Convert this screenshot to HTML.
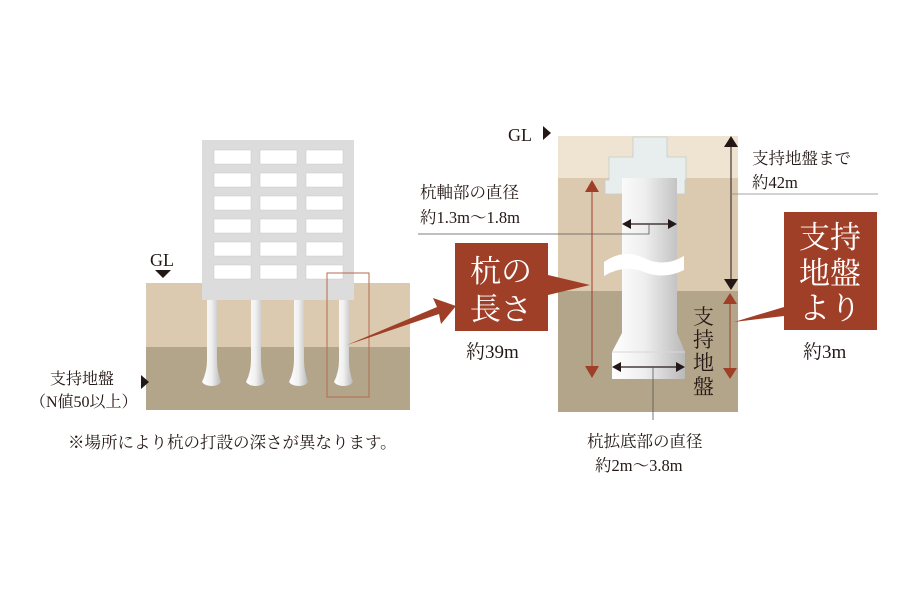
<!DOCTYPE html>
<html><head><meta charset="utf-8"><style>
html,body{margin:0;padding:0;background:#fff;}
svg{display:block;}
text{font-family:"Liberation Serif","Noto Serif CJK JP","Noto Serif CJK SC",serif;fill:#231815;}
</style></head><body>
<svg width="900" height="600" viewBox="0 0 900 600" xmlns="http://www.w3.org/2000/svg">
<defs>
<linearGradient id="pg" x1="0" x2="1" y1="0" y2="0">
<stop offset="0" stop-color="#ffffff"/><stop offset="0.45" stop-color="#eeeeee"/><stop offset="1" stop-color="#b9b9b9"/>
</linearGradient>
<linearGradient id="bg" x1="0" x2="1"><stop offset="0" stop-color="#fff"/><stop offset="0.5" stop-color="#f0f0f0"/><stop offset="1" stop-color="#b8b8b8"/></linearGradient>
</defs>
<!-- LEFT -->
<rect x="146" y="283" width="264" height="64" fill="#dccab0"/>
<rect x="146" y="347" width="264" height="63" fill="#b3a58a"/>
<rect x="202" y="140" width="152" height="160" fill="#dcdcdc"/>
<g fill="#fff" stroke="#c8c8c8" stroke-width="0.5">
<rect x="214" y="150" width="37" height="14"/><rect x="260" y="150" width="37" height="14"/><rect x="306" y="150" width="37" height="14"/>
<rect x="214" y="173" width="37" height="14"/><rect x="260" y="173" width="37" height="14"/><rect x="306" y="173" width="37" height="14"/>
<rect x="214" y="196" width="37" height="14"/><rect x="260" y="196" width="37" height="14"/><rect x="306" y="196" width="37" height="14"/>
<rect x="214" y="219" width="37" height="14"/><rect x="260" y="219" width="37" height="14"/><rect x="306" y="219" width="37" height="14"/>
<rect x="214" y="242" width="37" height="14"/><rect x="260" y="242" width="37" height="14"/><rect x="306" y="242" width="37" height="14"/>
<rect x="214" y="265" width="37" height="14"/><rect x="260" y="265" width="37" height="14"/><rect x="306" y="265" width="37" height="14"/>
</g>
<g fill="url(#bg)">
<path d="M207 300H217V360Q217 372 221 382Q218 386 212 386Q205 386 202 382Q207 372 207 360Z"/>
<path d="M251 300H261V360Q261 372 265 382Q262 386 256 386Q249 386 246 382Q251 372 251 360Z"/>
<path d="M294 300H304V360Q304 372 308 382Q305 386 299 386Q292 386 289 382Q294 372 294 360Z"/>
<path d="M339 300H349V360Q349 372 353 382Q350 386 344 386Q337 386 334 382Q339 372 339 360Z"/>
</g>
<rect x="327" y="273" width="42" height="124" fill="none" stroke="#b56a4e" stroke-width="1"/>
<text x="150" y="266" font-size="18">GL</text>
<path d="M155 270h16l-8 8z" fill="#231815"/>
<path d="M141 375l8 7-8 7z" fill="#231815"/>
<text x="50" y="384" font-size="16">支持地盤</text>
<text x="30" y="407" font-size="16">（N値50以上）</text>
<text x="68" y="448" font-size="16.5">※場所により杭の打設の深さが異なります。</text>
<!-- big arrow -->
<path d="M347 345L437 307L433 298L456 306L441 324L439 314Z" fill="#a03f28"/>
<!-- RIGHT -->
<rect x="558" y="136" width="180" height="42" fill="#efe4d2"/>
<rect x="558" y="178" width="180" height="113" fill="#dccab0"/>
<rect x="558" y="291" width="180" height="121" fill="#b3a58a"/>
<path d="M633 137h34v20h19v23h-1v14h-80v-14h4v-23h24z" fill="#e8eeee" stroke="#c3cccc" stroke-width="0.8"/>
<path d="M622 178h55v155l8 19v27h-73v-27l10-19z" fill="url(#pg)"/>
<line x1="612" y1="352" x2="685" y2="352" stroke="#d8d8d8" stroke-width="1"/>
<path d="M604 262q20-14 40-4t40-2v14q-20 10-40 2t-40 4z" fill="#fff"/>
<!-- shaft diameter -->
<line x1="628" y1="224" x2="672" y2="224" stroke="#231815" stroke-width="1.2"/>
<path d="M622 224l9-5v10z M677 224l-9-5v10z" fill="#231815"/>
<polyline points="418,234 649,234 649,224" fill="none" stroke="#555" stroke-width="0.8"/>
<text x="420" y="198" font-size="16.5">杭軸部の直径</text>
<text x="420" y="223" font-size="16.5">約1.3m〜1.8m</text>
<!-- base diameter -->
<line x1="618" y1="367" x2="680" y2="367" stroke="#231815" stroke-width="1.2"/>
<path d="M612 367l9-5v10z M685 367l-9-5v10z" fill="#231815"/>
<line x1="653" y1="367" x2="653" y2="420" stroke="#555" stroke-width="0.8"/>
<text x="587" y="447" font-size="16.5">杭拡底部の直径</text>
<text x="595" y="471" font-size="16.5">約2m〜3.8m</text>
<!-- red pile length arrow -->
<line x1="592" y1="186" x2="592" y2="374" stroke="#a03f28" stroke-width="1"/>
<path d="M592 180l-7 12h14z M592 378l-7-12h14z" fill="#a03f28"/>
<!-- black GL to support -->
<line x1="731" y1="142" x2="731" y2="287" stroke="#231815" stroke-width="1"/>
<path d="M731 136l-7 11h14z M731 290l-7-11h14z" fill="#231815"/>
<line x1="731" y1="194" x2="878" y2="194" stroke="#888" stroke-width="0.8"/>
<text x="752" y="164" font-size="16.5">支持地盤まで</text>
<text x="752" y="188" font-size="16.5">約42m</text>
<!-- red support arrow -->
<line x1="730" y1="296" x2="730" y2="376" stroke="#a03f28" stroke-width="1"/>
<path d="M730 293l-7 11h14z M730 379l-7-11h14z" fill="#a03f28"/>
<text font-size="21" x="693" y="324">支</text>
<text font-size="21" x="693" y="347">持</text>
<text font-size="21" x="693" y="370">地</text>
<text font-size="21" x="693" y="394">盤</text>
<text x="508" y="141" font-size="18">GL</text>
<path d="M543 126l8 7-8 7z" fill="#231815"/>
<!-- red boxes -->
<path d="M455 243h93v32l42 10l-42 10v36h-93z" fill="#a03f28"/>
<text x="501" y="282" font-size="31" text-anchor="middle" style="fill:#fff">杭の</text>
<text x="501" y="320" font-size="31" text-anchor="middle" style="fill:#fff">長さ</text>
<text x="466" y="358" font-size="19">約39m</text>
<path d="M784 212h93v118h-93v-14l-50 6l50-15z" fill="#a03f28"/>
<text x="830" y="248" font-size="31" text-anchor="middle" style="fill:#fff">支持</text>
<text x="830" y="284" font-size="31" text-anchor="middle" style="fill:#fff">地盤</text>
<text x="830" y="319" font-size="31" text-anchor="middle" style="fill:#fff">より</text>
<text x="803" y="358" font-size="19">約3m</text>
</svg>
</body></html>
